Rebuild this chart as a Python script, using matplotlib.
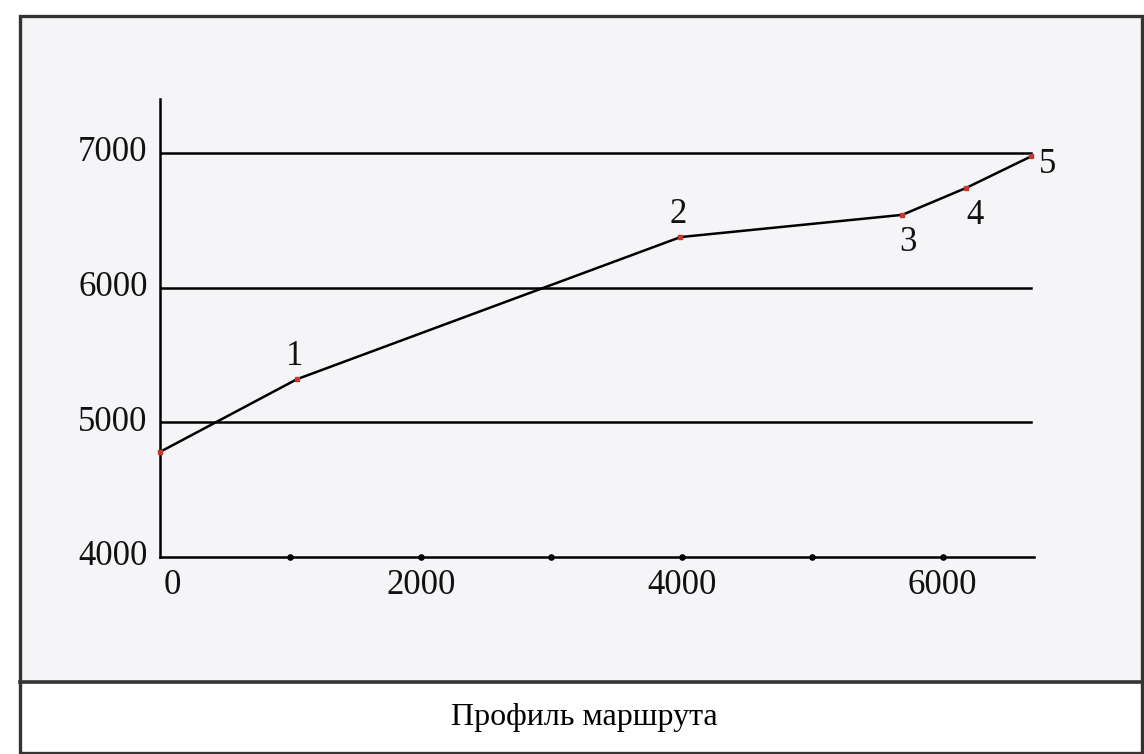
#!/usr/bin/env python3
"""Route elevation profile ("Профиль маршрута") redrawn from a scanned figure."""

import matplotlib
matplotlib.use("Agg")
import matplotlib.pyplot as plt
import matplotlib.transforms as mtransforms
from matplotlib.patches import Rectangle
from matplotlib.lines import Line2D

# distance along the route and elevation at each marked point
distance = [0, 1050, 3990, 5690, 6180, 6680]
elevation = [4780, 5320, 6375, 6540, 6740, 6975]
point_labels = ["", "1", "2", "3", "4", "5"]
# label offsets (points) relative to each marked point
label_offsets = [(0, 0), (-2, 16), (-2, 16), (4, -20), (6, -20), (12, -6)]

y_ticks = [4000, 5000, 6000, 7000]
x_ticks = [0, 2000, 4000, 6000]
x_dots = [1000, 2000, 3000, 4000, 5000, 6000]
caption = "Профиль маршрута"

W, H = 1144, 754
plt.rcParams["font.family"] = ["Liberation Serif", "DejaVu Serif"]

fig = plt.figure(figsize=(W / 100, H / 100), dpi=100)
fig.patch.set_facecolor("white")


def px(x0, y0, x1, y1):
    """pixel box (top-left origin) -> figure fraction rect"""
    return [x0 / W, 1 - y1 / H, (x1 - x0) / W, (y1 - y0) / H]


# framed panel with a caption row underneath
fig.patches.append(Rectangle((20 / W, 1 - 682 / H), 1122 / W, 666 / H,
                             transform=fig.transFigure, facecolor="#f5f5f7",
                             edgecolor="none", zorder=-5))
fig.patches.append(Rectangle((20 / W, 1 - 753 / H), 1122 / W, 737 / H,
                             transform=fig.transFigure, facecolor="none",
                             edgecolor="#333333", linewidth=2.4, zorder=5))
fig.lines.append(Line2D([20 / W, 1142 / W], [1 - 682 / H, 1 - 682 / H],
                        transform=fig.transFigure, color="#333333",
                        linewidth=2.6, zorder=5))

ax = fig.add_axes(px(160, 99, 1034, 557))
ax.set_facecolor("none")
ax.set_zorder(2)
ax.set_xlim(0, 6700)
ax.set_ylim(4000, 7400)

for side in ("top", "right"):
    ax.spines[side].set_visible(False)
for side in ("left", "bottom"):
    ax.spines[side].set_linewidth(1.8)
    ax.spines[side].set_color("black")

ax.set_yticks(y_ticks)
ax.set_xticks(x_ticks)
ax.tick_params(axis="both", length=0, labelsize=25, colors="#111111")
ax.tick_params(axis="y", pad=9)
ax.tick_params(axis="x", pad=9)
for lbl in ax.get_yticklabels():
    lbl.set_verticalalignment("center")
# the "0" under the origin sits a little to the right in the original
zero_lbl = ax.get_xticklabels()[0]
zero_lbl.set_transform(zero_lbl.get_transform()
                       + mtransforms.ScaledTranslation(0.12, 0, fig.dpi_scale_trans))

for yv in y_ticks[1:]:
    ax.axhline(yv, xmin=0, xmax=distance[-1] / 6700, color="black",
               linewidth=1.8, zorder=1)

ax.scatter(x_dots, [y_ticks[0]] * len(x_dots), s=14, color="black",
           zorder=4, clip_on=False)

ax.plot(distance, elevation, color="black", linewidth=1.8, zorder=3)
ax.plot(distance, elevation, linestyle="none", marker="s", markersize=3,
        color="#c0392b", zorder=4, clip_on=False)

for x, y, lab, off in zip(distance, elevation, point_labels, label_offsets):
    if lab:
        ax.annotate(lab, (x, y), xytext=off, textcoords="offset points",
                    ha="center", va="center", fontsize=25, color="#111111")

fig.text(584 / W, 1 - 718 / H, caption, ha="center", va="center",
         fontsize=23)

fig.savefig("out.png", dpi=100)
